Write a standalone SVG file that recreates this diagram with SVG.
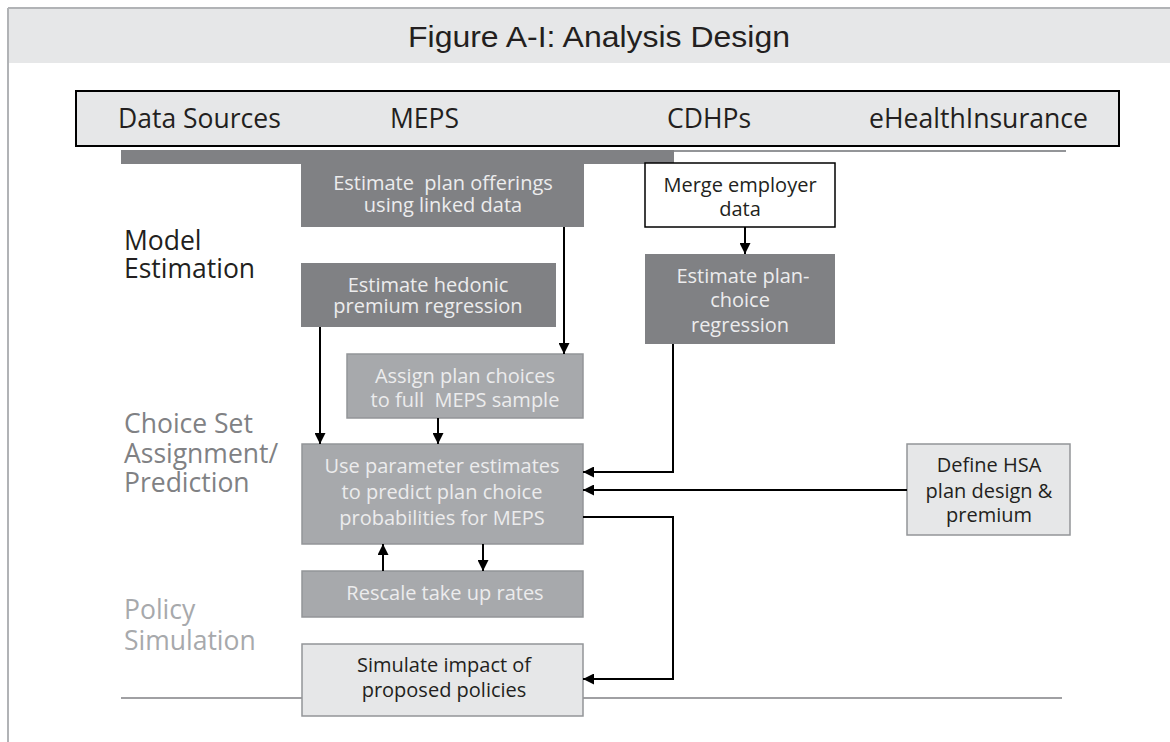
<svg xmlns="http://www.w3.org/2000/svg" width="1170" height="742" viewBox="0 0 1170 742">
<style>
text{font-family:"Open Sans","DejaVu Sans",sans-serif;}
.bt{font-size:20px;text-anchor:middle;}
.lt{fill:#ececed;}
.dk{fill:#231f20;}
.lab{font-size:26.5px;}
.src{font-size:26.5px;fill:#231f20;}
.dark{fill:#808184;}
.mid{fill:#a7a9ac;stroke:#939598;stroke-width:1.5;}
.pale{fill:#e6e7e8;stroke:#939598;stroke-width:1.5;}
.con{fill:none;stroke:#000;stroke-width:2;}
</style>
<defs>
<marker id="ah" viewBox="0 0 10 10" refX="10" refY="5" markerWidth="11" markerHeight="11" markerUnits="userSpaceOnUse" orient="auto">
<path d="M0,0 L10,5 L0,10 z" fill="#000"/>
</marker>
</defs>
<rect width="1170" height="742" fill="#fff"/>
<g id="frame">
<rect x="8" y="8" width="1162" height="55" fill="#e6e7e8"/>
<line x1="8" y1="8" x2="1170" y2="8" stroke="#b1b3b6" stroke-width="2"/>
<line x1="8" y1="8" x2="8" y2="742" stroke="#b1b3b6" stroke-width="2"/>
<text x="599" y="47" font-size="30" text-anchor="middle" textLength="382" lengthAdjust="spacingAndGlyphs" fill="#231f20" style="font-family:'Liberation Sans',sans-serif">Figure A-I: Analysis Design</text>
</g>
<g id="sources">
<rect x="76" y="91" width="1043" height="55" fill="#e6e7e8" stroke="#000" stroke-width="2"/>
<text class="src" x="118" y="128">Data Sources</text>
<text class="src" x="390" y="128">MEPS</text>
<text class="src" x="667" y="128">CDHPs</text>
<text class="src" x="869" y="128" textLength="219" lengthAdjust="spacingAndGlyphs">eHealthInsurance</text>
<rect x="121" y="150" width="553" height="14" fill="#808184"/>
<line x1="674" y1="151" x2="1066" y2="151" stroke="#939598" stroke-width="2"/>
</g>
<g id="stages">
<text class="lab dk" x="124" y="250">Model</text>
<text class="lab dk" x="124" y="278">Estimation</text>
<text class="lab" x="124" y="433" fill="#808184">Choice Set</text>
<text class="lab" x="124" y="463" fill="#808184">Assignment/</text>
<text class="lab" x="124" y="492" fill="#808184">Prediction</text>
<text class="lab" x="124" y="619" fill="#a7a9ac">Policy</text>
<text class="lab" x="124" y="650" fill="#a7a9ac">Simulation</text>
<line x1="121" y1="698" x2="1062" y2="698" stroke="#808184" stroke-width="1.5"/>
</g>
<g id="offerings">
<rect class="dark" x="301" y="164" width="283" height="63"/>
<text class="bt lt" x="443" y="190" xml:space="preserve">Estimate  plan offerings</text>
<text class="bt lt" x="443" y="212">using linked data</text>
</g>
<g id="hedonic">
<rect class="dark" x="301" y="263" width="255" height="64"/>
<text class="bt lt" x="428" y="292">Estimate hedonic</text>
<text class="bt lt" x="428" y="313">premium regression</text>
</g>
<g id="assign">
<rect class="mid" x="347" y="354" width="236" height="64"/>
<text class="bt lt" x="465" y="383">Assign plan choices</text>
<text class="bt lt" x="465" y="407" xml:space="preserve">to full  MEPS sample</text>
</g>
<g id="predict">
<rect class="mid" x="302" y="444" width="281" height="100"/>
<text class="bt lt" x="442" y="473">Use parameter estimates</text>
<text class="bt lt" x="442" y="499">to predict plan choice</text>
<text class="bt lt" x="442" y="525">probabilities for MEPS</text>
</g>
<g id="rescale">
<rect class="mid" x="302" y="571" width="281" height="46"/>
<text class="bt lt" x="445" y="600">Rescale take up rates</text>
</g>
<g id="simulate">
<rect class="pale" x="302" y="644" width="281" height="72"/>
<text class="bt dk" x="444" y="672">Simulate impact of</text>
<text class="bt dk" x="444" y="697">proposed policies</text>
</g>
<g id="merge">
<rect x="645" y="163" width="190" height="64" fill="#fff" stroke="#000" stroke-width="1.5"/>
<text class="bt dk" x="740" y="192">Merge employer</text>
<text class="bt dk" x="740" y="216">data</text>
</g>
<g id="planchoice">
<rect class="dark" x="645" y="254" width="190" height="90"/>
<text class="bt lt" x="743" y="283">Estimate plan-</text>
<text class="bt lt" x="740" y="307">choice</text>
<text class="bt lt" x="740" y="332">regression</text>
</g>
<g id="hsa">
<rect class="pale" x="907" y="444" width="163" height="91"/>
<text class="bt dk" x="989" y="472">Define HSA</text>
<text class="bt dk" x="989" y="498">plan design &amp;</text>
<text class="bt dk" x="989" y="522">premium</text>
</g>
<g id="connectors">
<path class="con" d="M564,227 V354" marker-end="url(#ah)"/>
<path class="con" d="M745,227 V254" marker-end="url(#ah)"/>
<path class="con" d="M320,327 V444" marker-end="url(#ah)"/>
<path class="con" d="M438,418 V444" marker-end="url(#ah)"/>
<path class="con" d="M673,344 V472 H583" marker-end="url(#ah)"/>
<path class="con" d="M907,490 H583" marker-end="url(#ah)"/>
<path class="con" d="M583,517 H673 V679 H583" marker-end="url(#ah)"/>
<path class="con" d="M383,571 V544" marker-end="url(#ah)"/>
<path class="con" d="M483,544 V571" marker-end="url(#ah)"/>
</g>
</svg>
